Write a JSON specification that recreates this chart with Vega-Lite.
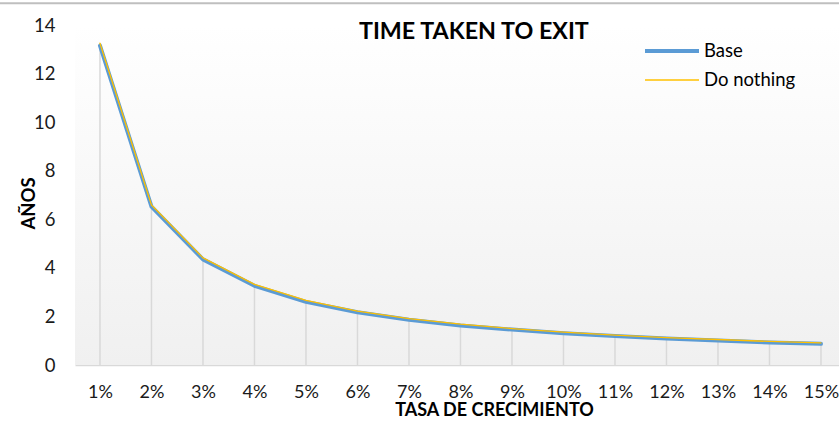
{
  "$schema": "https://vega.github.io/schema/vega-lite/v6.json",
  "width": 764,
  "height": 340,
  "autosize": "none",
  "padding": {"left": 75, "top": 25, "right": 0, "bottom": 56},
  "background": "white",
  "config": {
    "view": {"stroke": null},
    "font": "Lato"
  },
  "datasets": {
    "exit": [
      {"rate": 1, "series": "Base", "years": 13.15},
      {"rate": 2, "series": "Base", "years": 6.52},
      {"rate": 3, "series": "Base", "years": 4.35},
      {"rate": 4, "series": "Base", "years": 3.26},
      {"rate": 5, "series": "Base", "years": 2.6},
      {"rate": 6, "series": "Base", "years": 2.17},
      {"rate": 7, "series": "Base", "years": 1.86},
      {"rate": 8, "series": "Base", "years": 1.63},
      {"rate": 9, "series": "Base", "years": 1.46},
      {"rate": 10, "series": "Base", "years": 1.31},
      {"rate": 11, "series": "Base", "years": 1.19},
      {"rate": 12, "series": "Base", "years": 1.09},
      {"rate": 13, "series": "Base", "years": 1.01},
      {"rate": 14, "series": "Base", "years": 0.93},
      {"rate": 15, "series": "Base", "years": 0.87},
      {"rate": 1, "series": "Do nothing", "years": 13.25},
      {"rate": 2, "series": "Do nothing", "years": 6.59},
      {"rate": 3, "series": "Do nothing", "years": 4.41},
      {"rate": 4, "series": "Do nothing", "years": 3.32},
      {"rate": 5, "series": "Do nothing", "years": 2.66},
      {"rate": 6, "series": "Do nothing", "years": 2.22},
      {"rate": 7, "series": "Do nothing", "years": 1.91},
      {"rate": 8, "series": "Do nothing", "years": 1.68},
      {"rate": 9, "series": "Do nothing", "years": 1.5},
      {"rate": 10, "series": "Do nothing", "years": 1.35},
      {"rate": 11, "series": "Do nothing", "years": 1.23},
      {"rate": 12, "series": "Do nothing", "years": 1.13},
      {"rate": 13, "series": "Do nothing", "years": 1.05},
      {"rate": 14, "series": "Do nothing", "years": 0.97},
      {"rate": 15, "series": "Do nothing", "years": 0.91}
    ],
    "plotArea": [
      {"x0": 0.515, "x1": 15.35, "y0": 0, "y1": 14}
    ],
    "border": [
      {"x0": -1.3, "x1": 15.35, "y": 14.9}
    ],
    "heading": [
      {"x": 8.26, "y": 13.42, "text": "TIME TAKEN TO EXIT"}
    ]
  },
  "layer": [
    {
      "data": {"name": "plotArea"},
      "mark": {
        "type": "rect",
        "color": {
          "gradient": "linear",
          "x1": 0, "y1": 0, "x2": 0, "y2": 1,
          "stops": [
            {"offset": 0, "color": "#ffffff"},
            {"offset": 1, "color": "#f0f0f0"}
          ]
        }
      },
      "encoding": {
        "x": {"field": "x0", "type": "quantitative"},
        "x2": {"field": "x1"},
        "y": {"field": "y0", "type": "quantitative"},
        "y2": {"field": "y1"}
      }
    },
    {
      "data": {"name": "border"},
      "mark": {"type": "rule", "color": "#bfbfbf", "strokeWidth": 2},
      "encoding": {
        "x": {"field": "x0", "type": "quantitative"},
        "x2": {"field": "x1"},
        "y": {"field": "y", "type": "quantitative"}
      }
    },
    {
      "data": {"name": "heading"},
      "mark": {
        "type": "text",
        "font": "Lato",
        "fontSize": 23.3,
        "fontWeight": "bold",
        "color": "#000000",
        "align": "center",
        "baseline": "alphabetic"
      },
      "encoding": {
        "x": {"field": "x", "type": "quantitative"},
        "y": {"field": "y", "type": "quantitative"},
        "text": {"field": "text"}
      }
    },
    {
      "data": {"name": "exit"},
      "transform": [{"filter": "datum.series === 'Do nothing'"}],
      "mark": {"type": "rule", "color": "#d9d9d9", "strokeWidth": 1.5},
      "encoding": {
        "x": {"field": "rate", "type": "quantitative"},
        "y": {"field": "years", "type": "quantitative"},
        "y2": {"datum": 0}
      }
    },
    {
      "data": {"name": "exit"},
      "mark": {"type": "line", "strokeCap": "round", "strokeJoin": "round"},
      "encoding": {
        "x": {
          "field": "rate",
          "type": "quantitative",
          "scale": {"domain": [0.515, 15.35], "nice": false, "zero": false},
          "axis": {
            "values": [1, 2, 3, 4, 5, 6, 7, 8, 9, 10, 11, 12, 13, 14, 15],
            "labelExpr": "datum.value + '%'",
            "title": "TASA DE CRECIMIENTO",
            "titleFont": "Lato",
            "titleFontSize": 18,
            "titleFontWeight": "bold",
            "titleColor": "#000000",
            "titleX": 419,
            "titlePadding": 0,
            "labelFont": "Lato",
            "labelFontSize": 18,
            "labelColor": "#1a1a1a",
            "labelPadding": 18,
            "labelFlush": false,
            "labelOverlap": false,
            "ticks": false,
            "grid": false,
            "domainColor": "#d9d9d9",
            "domainWidth": 1.5
          }
        },
        "y": {
          "field": "years",
          "type": "quantitative",
          "scale": {"domain": [0, 14], "nice": false},
          "axis": {
            "values": [0, 2, 4, 6, 8, 10, 12, 14],
            "title": "AÑOS",
            "titleFont": "Lato",
            "titleFontSize": 18.5,
            "titleFontWeight": "bold",
            "titleColor": "#000000",
            "titleX": -41,
            "titleY": 178,
            "titleBaseline": "alphabetic",
            "labelFont": "Lato",
            "labelFontSize": 18.5,
            "labelColor": "#1a1a1a",
            "labelPadding": 20,
            "ticks": false,
            "grid": false,
            "domain": false
          }
        },
        "color": {
          "field": "series",
          "type": "nominal",
          "scale": {"domain": ["Base", "Do nothing"], "range": ["#5b9bd5", "#ffc000"]},
          "legend": {
            "title": null,
            "orient": "none",
            "legendX": 581.5,
            "legendY": 10.5,
            "symbolType": "M-2,0H2",
            "symbolSize": 729,
            "labelFont": "Lato",
            "labelFontSize": 18.5,
            "labelColor": "#000000",
            "labelOffset": 16.5,
            "rowPadding": 5
          }
        },
        "strokeWidth": {
          "field": "series",
          "type": "ordinal",
          "scale": {"domain": ["Base", "Do nothing"], "range": [4, 1.3]},
          "legend": null
        }
      }
    }
  ]
}
